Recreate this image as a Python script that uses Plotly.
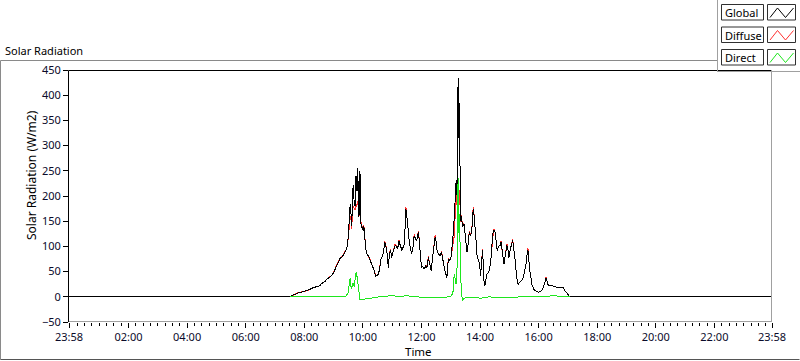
import plotly.graph_objects as go

DAY = "2020-01-02 "
AXIS_START = "2020-01-01 23:58"
AXIS_END = "2020-01-02 23:58"

# ---- data (W/m2) ----
times = [
    "07:31", "07:36", "07:41", "07:46", "07:51", "07:58", "08:05", "08:12", "08:18", "08:25",
    "08:32", "08:35", "08:38", "08:42", "08:46", "08:50", "08:56", "09:00", "09:03", "09:08",
    "09:13", "09:18", "09:23", "09:27", "09:30", "09:32", "09:34", "09:36", "09:37", "09:39",
    "09:40", "09:42", "09:44", "09:45", "09:46", "09:48", "09:49", "09:50", "09:51", "09:52",
    "09:53", "09:54", "09:55", "09:56", "09:58", "10:01", "10:02", "10:04", "10:06", "10:08",
    "10:12", "10:15", "10:18", "10:21", "10:24", "10:26", "10:29", "10:32", "10:35", "10:37",
    "10:40", "10:42", "10:45", "10:47", "10:49", "10:51", "10:52", "10:54", "10:56", "10:58",
    "10:59", "11:02", "11:06", "11:09", "11:11", "11:14", "11:16", "11:18", "11:20", "11:23",
    "11:25", "11:27", "11:28", "11:30", "11:32", "11:35", "11:37", "11:40", "11:43", "11:45",
    "11:48", "11:50", "11:52", "11:54", "11:56", "11:57", "11:59", "12:00", "12:03", "12:06",
    "12:09", "12:11", "12:13", "12:14", "12:17", "12:20", "12:22", "12:25", "12:28", "12:30",
    "12:32", "12:35", "12:38", "12:41", "12:44", "12:48", "12:50", "12:52", "12:55", "12:58",
    "13:00", "13:02", "13:04", "13:07", "13:09", "13:11", "13:12", "13:13", "13:14", "13:15",
    "13:16", "13:17", "13:18", "13:19", "13:20", "13:22", "13:24", "13:27", "13:29", "13:31",
    "13:33", "13:35", "13:38", "13:40", "13:43", "13:45", "13:46", "13:48", "13:50", "13:52",
    "13:53", "13:56", "13:59", "14:01", "14:03", "14:05", "14:07", "14:08", "14:10", "14:12",
    "14:14", "14:17", "14:19", "14:22", "14:24", "14:26", "14:28", "14:31", "14:33", "14:35",
    "14:38", "14:41", "14:43", "14:44", "14:47", "14:49", "14:52", "14:55", "14:57", "14:59",
    "15:02", "15:05", "15:07", "15:08", "15:10", "15:12", "15:15", "15:18", "15:21", "15:25",
    "15:29", "15:32", "15:35", "15:36", "15:38", "15:39", "15:41", "15:44", "15:46", "15:50",
    "15:53", "15:59", "16:03", "16:06", "16:09", "16:12", "16:15", "16:17", "16:20", "16:24",
    "16:27", "16:31", "16:34", "16:37", "16:40", "16:45", "16:51", "16:54", "16:58", "17:01",
    "17:04",
]
global_wm2 = [
    0, 3, 5, 8, 9, 10, 12, 15, 18, 20,
    22, 26, 28, 30, 35, 38, 42, 48, 56, 65,
    76, 80, 88, 95, 118, 150, 185, 160, 140, 200,
    221, 190, 180, 230, 240, 210, 255, 230, 200, 158,
    245, 250, 190, 145, 138, 131, 140, 105, 95, 85,
    80, 72, 65, 58, 50, 40, 42, 45, 60, 75,
    80, 88, 108, 100, 92, 70, 58, 80, 92, 85,
    78, 90, 102, 100, 95, 110, 102, 98, 92, 100,
    105, 150, 175, 160, 131, 110, 98, 85, 100, 121,
    115, 111, 120, 128, 105, 92, 70, 58, 60, 55,
    62, 58, 70, 78, 65, 52, 72, 95, 118, 110,
    92, 85, 82, 88, 70, 52, 45, 38, 75, 72,
    75, 90, 111, 155, 190, 231, 215, 198, 300, 434,
    420, 300, 384, 251, 151, 160, 138, 145, 131, 110,
    88, 100, 128, 120, 131, 160, 175, 160, 138, 110,
    85, 75, 65, 42, 70, 92, 60, 32, 22, 35,
    45, 48, 52, 72, 100, 125, 132, 128, 110, 92,
    100, 102, 108, 98, 80, 65, 85, 102, 95, 78,
    95, 108, 112, 102, 90, 72, 38, 25, 28, 32,
    40, 52, 70, 82, 92, 88, 58, 40, 25, 15,
    12, 9, 10, 12, 18, 25, 37, 30, 22, 23,
    22, 21, 20, 19, 18, 19, 18, 12, 7, 3,
    0,
]
diffuse_wm2 = [
    0, 3, 5, 8, 9, 10, 12, 15, 18, 20,
    22, 27, 28, 30, 35, 39, 42, 48, 56, 66,
    76, 81, 88, 96, 115, 140, 160, 150, 135, 170,
    180, 175, 172, 180, 178, 185, 190, 182, 176, 160,
    200, 205, 185, 148, 140, 133, 142, 106, 95, 86,
    80, 73, 65, 58, 50, 41, 42, 45, 61, 75,
    81, 88, 111, 100, 92, 70, 60, 80, 94, 85,
    78, 90, 105, 100, 95, 113, 102, 98, 92, 100,
    105, 150, 179, 160, 131, 110, 98, 85, 100, 124,
    115, 111, 121, 131, 105, 92, 70, 58, 60, 55,
    63, 58, 70, 80, 65, 52, 72, 95, 122, 110,
    92, 85, 82, 90, 70, 52, 45, 38, 77, 72,
    75, 88, 105, 120, 160, 205, 195, 180, 195, 208,
    205, 200, 212, 180, 148, 162, 138, 146, 131, 110,
    88, 100, 130, 120, 133, 162, 179, 160, 138, 110,
    85, 75, 65, 42, 70, 94, 60, 32, 22, 35,
    45, 48, 52, 72, 100, 128, 135, 128, 110, 92,
    100, 102, 111, 98, 80, 65, 85, 105, 95, 78,
    95, 111, 115, 102, 90, 72, 38, 25, 28, 32,
    40, 52, 70, 82, 96, 88, 58, 40, 25, 15,
    12, 9, 10, 12, 18, 25, 39, 30, 22, 23,
    22, 21, 21, 19, 18, 19, 18, 12, 7, 3,
    0,
]
direct_times = [
    "07:31", "08:00", "08:30", "09:00", "09:20", "09:26", "09:30", "09:32", "09:34", "09:36",
    "09:37", "09:40", "09:42", "09:44", "09:46", "09:48", "09:49", "09:51", "09:52", "09:54",
    "09:58", "10:05", "10:15", "10:25", "10:40", "11:00", "11:15", "11:30", "11:45", "12:00",
    "12:15", "12:30", "12:45", "12:55", "13:00", "13:03", "13:05", "13:07", "13:09", "13:11",
    "13:13", "13:14", "13:15", "13:16", "13:17", "13:18", "13:19", "13:20", "13:22", "13:24",
    "13:27", "13:32", "13:40", "13:50", "14:00", "14:10", "14:20", "14:30", "14:40", "14:50",
    "15:00", "15:10", "15:20", "15:30", "15:40", "15:50", "16:00", "16:15", "16:30", "16:45",
    "17:00", "17:04",
]
direct_wm2 = [
    0, 0, -1, 0, 0, 2, 9, 25, 38, 15,
    18, 28, 20, 35, 48, 40, 32, 10, 0, -5,
    -6, -4, -3, -1, 1, 2, 1, 2, 0, -1,
    -2, -1, -2, 0, 1, 5, 12, 45, 30, 25,
    60, 150, 235, 180, 120, 165, 78, 45, 9, -8,
    -3, -1, -2, -1, -3, -1, 0, -2, -1, -2,
    -1, -2, 0, 0, 0, 1, 1, 1, 2, 1,
    1, 0,
]
y_ticks = [-50, 0, 50, 100, 150, 200, 250, 300, 350, 400, 450]
x_tick_times = ["2020-01-01 23:58", DAY + "02:00", DAY + "04:00", DAY + "06:00", DAY + "08:00",
                DAY + "10:00", DAY + "12:00", DAY + "14:00", DAY + "16:00", DAY + "18:00",
                DAY + "20:00", DAY + "22:00", DAY + "23:58"]
x_tick_text = ["23:58", "02:00", "04:00", "06:00", "08:00", "10:00", "12:00", "14:00",
               "16:00", "18:00", "20:00", "22:00", "23:58"]

# full-day global includes night zeros
g_x = [AXIS_START] + [DAY + t for t in times] + [AXIS_END]
g_y = [0] + global_wm2 + [0]
d_x = [DAY + t for t in times]
dir_x = [DAY + t for t in direct_times]

BLACK = "#000000"
RED = "#ff3030"
GREEN = "#1ee61e"
FONT = "Noto Sans, Open Sans, sans-serif"

fig = go.Figure()
fig.add_trace(go.Scatter(x=d_x, y=diffuse_wm2, mode="lines", name="Diffuse",
                         line=dict(color=RED, width=1)))
fig.add_trace(go.Scatter(x=g_x, y=g_y, mode="lines", name="Global",
                         line=dict(color=BLACK, width=1)))
fig.add_trace(go.Scatter(x=dir_x, y=direct_wm2, mode="lines", name="Direct",
                         line=dict(color=GREEN, width=1)))

# plot area in pixels
L, R, T, B = 69, 772, 70, 322
W, H = R - L, B - T


def px(xp):
    return (xp - L) / W


def py(yp):
    return (B - yp) / H


shapes = []


def line(x0, y0, x1, y1, color, width=1):
    shapes.append(dict(type="line", xref="paper", yref="paper",
                       x0=px(x0), y0=py(y0), x1=px(x1), y1=py(y1),
                       line=dict(color=color, width=width)))


def rect(x0, y0, x1, y1, color, fill="white", width=1):
    shapes.append(dict(type="rect", xref="paper", yref="paper",
                       x0=px(x0), y0=py(y0), x1=px(x1), y1=py(y1),
                       line=dict(color=color, width=width), fillcolor=fill, layer="above"))


# outer panel
line(0.5, 60.5, 717, 60.5, "#8a8a8a")
line(0.5, 60.5, 0.5, 359.5, "#8a8a8a")
line(0.5, 359.5, 799.5, 359.5, "#555555")
# plot frame
line(L - 0.5, T + 0.5, R, T + 0.5, "#000000")
line(L - 0.5, T + 0.5, L - 0.5, B, "#000000")
line(R - 0.5, T, R - 0.5, B, "#a0a0a0")
line(L, B - 0.5, R, B - 0.5, "#a0a0a0")
# legend panel
line(717.5, 0, 717.5, 72, "#a0a0a0")
line(717, 71.5, 800, 71.5, "#a0a0a0")

annotations = []
leg = [("Global", BLACK, 4.5), ("Diffuse", RED, 27), ("Direct", GREEN, 49.5)]
for name, col, top in leg:
    rect(721.5, top, 763.5, top + 15.5, "#303030")
    rect(767.5, top, 795.5, top + 15.5, "#303030")
    shapes.append(dict(type="path", xref="paper", yref="paper",
                       path="M {} {} L {} {} L {} {} L {} {}".format(
                           px(770), py(top + 13), px(777.5), py(top + 3.5),
                           px(785.5), py(top + 13), px(793.5), py(top + 3.5)),
                       line=dict(color=col, width=1)))
    annotations.append(dict(xref="paper", yref="paper", x=px(723), y=py(top + 8),
                            xanchor="left", yanchor="middle", text=name, showarrow=False,
                            font=dict(size=11, color="#000", family=FONT)))

annotations.append(dict(xref="paper", yref="paper", x=px(3), y=py(50), xanchor="left",
                        yanchor="middle", text="Solar Radiation", showarrow=False,
                        font=dict(size=11, color="#000", family=FONT)))
annotations.append(dict(xref="paper", yref="paper", x=px(31), y=py(175), xanchor="center",
                        yanchor="middle", text="Solar Radiation (W/m2)", textangle=-90,
                        showarrow=False, font=dict(size=12, color="#000", family=FONT)))
annotations.append(dict(xref="paper", yref="paper", x=px(418), y=py(351.5), xanchor="center",
                        yanchor="middle", text="Time", showarrow=False,
                        font=dict(size=11.5, color="#000", family=FONT)))

fig.update_layout(
    width=800, height=361,
    margin=dict(l=L, r=800 - R, t=T, b=361 - B),
    paper_bgcolor="white", plot_bgcolor="white",
    showlegend=False,
    font=dict(family=FONT, size=11, color="#000"),
    shapes=shapes, annotations=annotations,
    xaxis=dict(type="date", range=[AXIS_START, AXIS_END], tickmode="array",
               tickvals=x_tick_times, ticktext=x_tick_text, ticks="outside", ticklen=5,
               tickcolor="#000", tickwidth=1, showgrid=False, zeroline=False, showline=False,
               tickfont=dict(size=11, color="#0a0a2a"),
               minor=dict(ticks="outside", ticklen=3, tickmode="linear",
                          tick0="2020-01-02 00:00", dtick=15 * 60 * 1000, tickcolor="#000",
                          showgrid=False)),
    yaxis=dict(range=[-50, 450], tickmode="array", tickvals=y_ticks, ticks="outside",
               ticklen=5, tickcolor="#000", showgrid=False, zeroline=False, showline=False,
               tickfont=dict(size=11, color="#0a0a2a")),
)

post = (
    "document.body.style.margin='0';"
    "document.querySelectorAll('.scatterlayer path.js-line').forEach(function(p){"
    "p.style.shapeRendering='crispEdges';});"
)
fig.write_html("out.html", post_script=post, config={"displayModeBar": False})
